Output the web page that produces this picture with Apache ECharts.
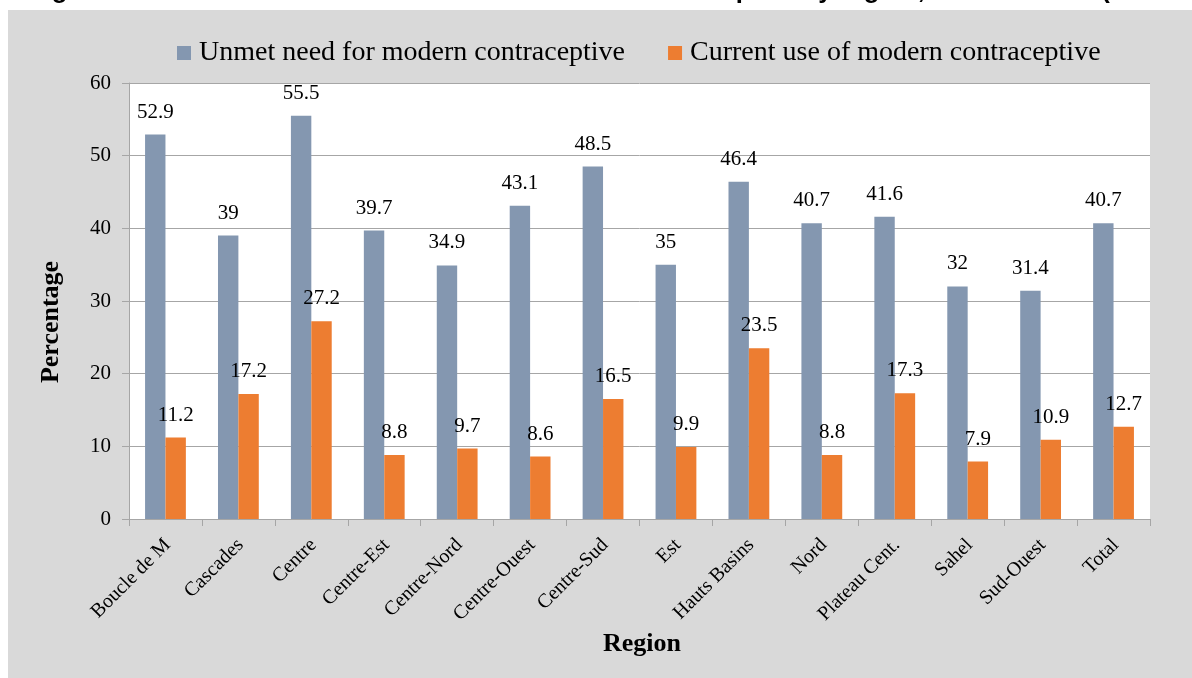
<!DOCTYPE html>
<html>
<head>
<meta charset="utf-8">
<script src="https://cdn.jsdelivr.net/npm/echarts@6/dist/echarts.min.js"></script>
<style>
html,body{margin:0;padding:0;background:#fff;}
#chart{width:1192px;height:678px;}
</style>
</head>
<body>
<div id="chart"></div>
<script>
const categories = ['Boucle de M','Cascades','Centre','Centre-Est','Centre-Nord','Centre-Ouest','Centre-Sud','Est','Hauts Basins','Nord','Plateau Cent.','Sahel','Sud-Ouest','Total'];
const unmetNeed = [52.9, 39, 55.5, 39.7, 34.9, 43.1, 48.5, 35, 46.4, 40.7, 41.6, 32, 31.4, 40.7];
const currentUse = [11.2, 17.2, 27.2, 8.8, 9.7, 8.6, 16.5, 9.9, 23.5, 8.8, 17.3, 7.9, 10.9, 12.7];
const seriesNames = ['Unmet need for modern contraceptive', 'Current use of modern contraceptive'];
const yTicks = [0, 10, 20, 30, 40, 50, 60];
const titleText = 'Figure 5: Unmet need and current use of modern contraceptive by region, Burkina Faso (DHS 2010)';
const xName = 'Region';
const yName = 'Percentage';

const serif = '"Liberation Serif", "Times New Roman", serif';
const gridColor = '#a6a6a6';

const chart = echarts.init(document.getElementById('chart'), null, {renderer: 'canvas'});
const labelStyle = {show: true, position: 'top', distance: 12, color: '#000', fontFamily: serif, fontSize: 21};

chart.setOption({
  backgroundColor: '#ffffff',
  animation: false,
  graphic: [
    {type: 'rect', z: -10, silent: true, shape: {x: 8, y: 10, width: 1184, height: 668}, style: {fill: '#d9d9d9'}},
    {type: 'text', z: 10, silent: true, x: 29, y: 3.5, style: {text: titleText, fill: '#000', font: 'bold 25.6px "Liberation Sans", Arial, sans-serif', align: 'left', verticalAlign: 'bottom'}},
    {type: 'text', z: 10, silent: true, x: 51, y: 322, rotation: Math.PI / 2, style: {text: yName, fill: '#000', font: 'bold 26px ' + serif, align: 'center', verticalAlign: 'middle'}},
    {type: 'text', z: 10, silent: true, x: 642, y: 644, style: {text: xName, fill: '#000', font: 'bold 26px ' + serif, align: 'center', verticalAlign: 'middle'}}
  ],
  legend: {
    left: 177, top: 39, padding: 0,
    icon: 'rect', itemWidth: 14, itemHeight: 14, itemGap: 43,
    textStyle: {fontFamily: serif, fontSize: 28, color: '#000', padding: [0, 0, 0, 3]},
    data: seriesNames
  },
  grid: {left: 129, right: 42, top: 83, bottom: 159, show: true, backgroundColor: '#ffffff', borderWidth: 0, containLabel: false},
  xAxis: {
    type: 'category', data: categories, boundaryGap: true,
    axisLine: {show: true, lineStyle: {color: gridColor, width: 1}},
    axisTick: {show: true, length: 7, inside: false, alignWithLabel: false, lineStyle: {color: gridColor}},
    axisLabel: {interval: 0, rotate: 45, margin: 11, align: 'right', verticalAlign: 'top', padding: [0, 7, 0, 0], color: '#000', fontFamily: serif, fontSize: 20},
    splitLine: {show: false}
  },
  yAxis: {
    type: 'value', min: yTicks[0], max: yTicks[yTicks.length - 1], interval: yTicks[1] - yTicks[0],
    axisLine: {show: true, lineStyle: {color: gridColor, width: 1}},
    axisTick: {show: true, length: 7, inside: false, lineStyle: {color: gridColor}},
    axisLabel: {margin: 18, color: '#000', fontFamily: serif, fontSize: 21},
    splitLine: {show: true, lineStyle: {color: gridColor, width: 1}}
  },
  series: [
    {name: seriesNames[0], type: 'bar', data: unmetNeed, barWidth: 20.4, barGap: '0%', itemStyle: {color: '#8497b0'}, label: labelStyle},
    {name: seriesNames[1], type: 'bar', data: currentUse, barWidth: 20.4, barGap: '0%', itemStyle: {color: '#ed7d31'}, label: labelStyle}
  ]
});
</script>
</body>
</html>
